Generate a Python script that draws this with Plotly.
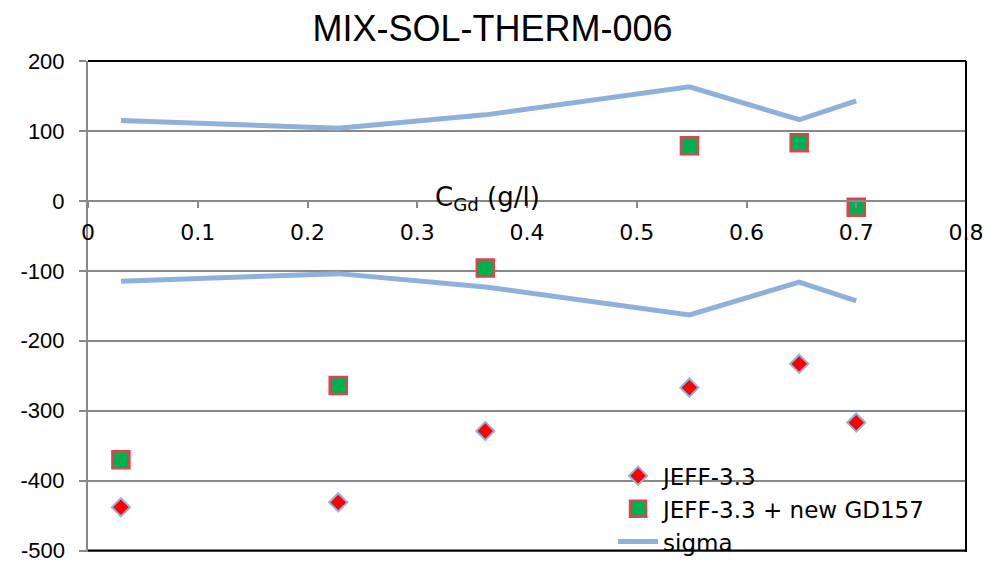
import plotly.graph_objects as go

x_vals = [0.03, 0.228, 0.362, 0.548, 0.648, 0.7]
jeff33 = [-438, -431, -329, -267, -233, -317]
jeff33_gd157 = [-370, -264, -96, 79, 83, -9]
sigma_up = [115, 104, 123, 163, 116, 143]
sigma_low = [-115, -104, -123, -163, -116, -143]
x_ticks = [0, 0.1, 0.2, 0.3, 0.4, 0.5, 0.6, 0.7, 0.8]
x_tick_text = ["0", "0.1", "0.2", "0.3", "0.4", "0.5", "0.6", "0.7", "0.8"]
y_ticks = [200, 100, 0, -100, -200, -300, -400, -500]
y_tick_text = ["200", "100", "0", "-100", "-200", "-300", "-400", "-500"]

sig_color = "#8EB0DA"
y_font = dict(family="Liberation Sans, Arial", size=22, color="black")

fig = go.Figure()
fig.add_trace(go.Scatter(
    x=x_vals, y=jeff33, mode="markers", name="JEFF-3.3",
    marker=dict(symbol="diamond", size=14, color="#FF0000",
                line=dict(color="#95B3D7", width=2))))
fig.add_trace(go.Scatter(
    x=x_vals, y=jeff33_gd157, mode="markers", name="JEFF-3.3 + new GD157",
    marker=dict(symbol="square", size=17, color="#00B050",
                line=dict(color="#E2404F", width=2.5))))
fig.add_trace(go.Scatter(
    x=x_vals, y=sigma_up, mode="lines", name="sigma",
    line=dict(color=sig_color, width=5)))
fig.add_trace(go.Scatter(
    x=x_vals, y=sigma_low, mode="lines", name="sigma", showlegend=False,
    line=dict(color=sig_color, width=5)))

# the bottom-most tick label sits at the page edge; draw it as an annotation
y_tick_shown = y_tick_text[:-1] + [""]

fig.update_layout(
    width=985, height=562,
    margin=dict(l=88, r=19, t=61, b=10, autoexpand=False),
    paper_bgcolor="white", plot_bgcolor="white",
    title=dict(text="MIX-SOL-THERM-006", x=0.5, xref="container", xanchor="center",
               y=0.95, yref="container", yanchor="middle",
               font=dict(family="Liberation Sans, Arial", size=36, color="black")),
    showlegend=True,
    legend=dict(x=0.598, y=0.199, xanchor="left", yanchor="top",
                bgcolor="rgba(0,0,0,0)", tracegroupgap=0,
                font=dict(family="DejaVu Sans", size=23, color="black"),
                itemwidth=40),
    xaxis=dict(range=[0, 0.8], tickvals=x_ticks, ticktext=x_tick_text, automargin=False,
               anchor="free", position=502/702, showgrid=False, zeroline=False,
               showline=True, linecolor="#888888", linewidth=2,
               ticks="outside", ticklen=6, tickcolor="#888888", tickwidth=2,
               ticklabelstandoff=6,
               tickfont=dict(family="DejaVu Sans", size=22, color="black")),
    yaxis=dict(range=[-502, 200], tickvals=y_ticks, ticktext=y_tick_shown,
               showgrid=True, automargin=False,
               gridcolor="#888888", gridwidth=1.5, zeroline=False,
               showline=True, linecolor="#888888", linewidth=2,
               ticks="outside", ticklen=7, tickcolor="#888888", tickwidth=2,
               ticklabelstandoff=10, tickfont=y_font),
    shapes=[
        dict(type="line", xref="paper", yref="paper", x0=0, x1=1, y0=1, y1=1,
             line=dict(color="black", width=2)),
        dict(type="line", xref="paper", yref="paper", x0=1, x1=1, y0=0, y1=1,
             line=dict(color="black", width=2)),
        dict(type="line", xref="paper", yref="y", x0=0, x1=1, y0=y_ticks[-1], y1=y_ticks[-1],
             line=dict(color="black", width=2)),
    ],
    annotations=[
        dict(text="C<sub>Gd</sub> (g/l)", x=0.364, y=0, xref="x", yref="y",
             xanchor="center", yanchor="middle", showarrow=False, yshift=2,
             font=dict(family="DejaVu Sans", size=26, color="black")),
        dict(text=y_tick_text[-1], x=0, y=y_ticks[-1], xref="paper", yref="y",
             xanchor="right", yanchor="middle", showarrow=False, xshift=-21,
             font=y_font),
    ],
)

fig.write_html("out.html")
